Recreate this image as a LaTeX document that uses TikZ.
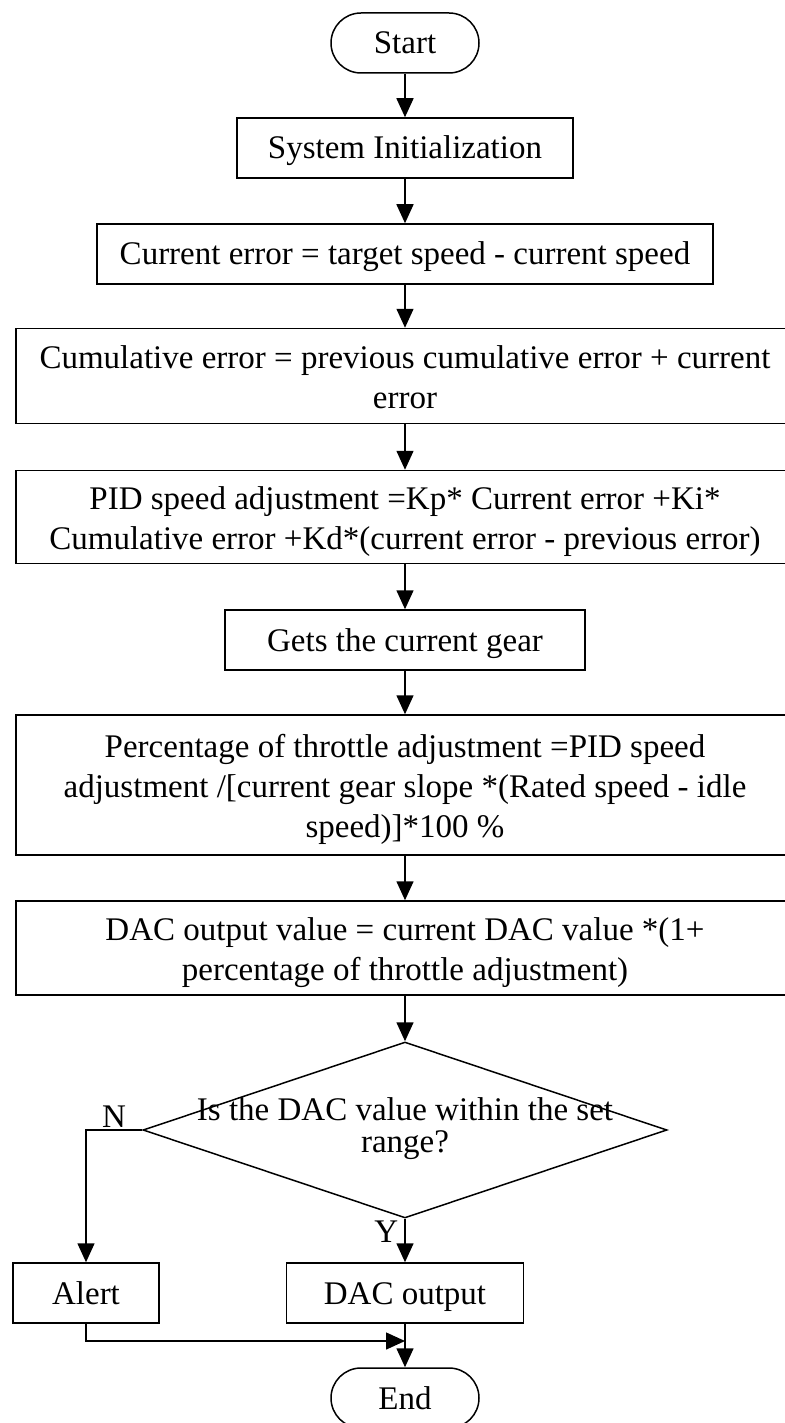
\documentclass[tikz,border=0pt]{standalone}
\usepackage{fontspec}
\setmainfont{Liberation Serif}
\usetikzlibrary{shapes.geometric,arrows.meta}
\newcommand{\topstrut}{\rule{0pt}{37pt}}

\begin{document}
\begin{tikzpicture}[x=1pt, y=-1pt,
  every node/.style={inner sep=0pt, font=\fontsize{33}{40}\selectfont},
  box/.style={draw, line width=1.5pt, rectangle, align=center, minimum height=60pt,
    execute at begin node=\rule{0pt}{34pt}, execute at end node=\rule[-12pt]{0pt}{12pt}},
  wide/.style={box, minimum width=778pt},
  term/.style={box, rounded corners=30pt, minimum width=148pt},
  decision/.style={draw, line width=1.5pt, diamond, minimum width=524pt, minimum height=176pt},
  flow/.style={line width=1.5pt, -{Triangle[length=19pt,width=17pt]}}]
  \useasboundingbox (0,0) rectangle (784,1423);
  % Main chain
  \node[term] (start) at (405,43) {Start};
  \node[box, minimum width=336pt] (init) at (405,148) {System Initialization};
  \node[box, minimum width=616pt] (err) at (405,254) {Current error = target speed - current speed};
  \node[wide, minimum height=95pt] (cum) at (405,376)
    {\topstrut Cumulative error = previous cumulative error + current\\error};
  \node[wide, minimum height=93pt] (pid) at (405,517)
    {\topstrut PID speed adjustment =Kp* Current error +Ki*\\Cumulative error +Kd*(current error - previous error)};
  \node[box, minimum width=360pt] (gear) at (405,640) {Gets the current gear};
  \node[wide, minimum height=140pt] (pct) at (405,785)
    {\topstrut Percentage of throttle adjustment =PID speed\\adjustment /[current gear slope *(Rated speed - idle\\speed)]*100 \%};
  \node[wide, minimum height=94pt] (dac) at (405,948)
    {\topstrut DAC output value = current DAC value *(1+\\percentage of throttle adjustment)};
  \foreach \a/\b in {start/init, init/err, err/cum, cum/pid, pid/gear, gear/pct, pct/dac}
    \draw[flow] (\a) -- (\b);
  % Range check
  \node[decision] (check) at (405,1130) {};
  \node[align=center, font=\fontsize{33}{32}\selectfont] (checktxt) at (405,1129)
    {Is the DAC value within the set\\range?};
  \draw[flow] (dac) -- (check);
  % Branches
  \node[box, minimum width=146pt] (alert) at (86,1293) {Alert};
  \node[box, minimum width=237pt] (out) at (405,1293) {DAC output};
  \draw[flow] (check.south) -- node[pos=0.3, left=6pt] {Y} (out);
  \draw[flow] (check.west) -| node[pos=0.25, above=2pt] {N} (alert.north);
  % End
  \node[term] (end) at (405,1398) {End};
  \coordinate (merge) at (405,1341);
  \draw[flow] (alert.south) |- (merge);
  \draw[flow] (out) -- (end);
\end{tikzpicture}
\end{document}
